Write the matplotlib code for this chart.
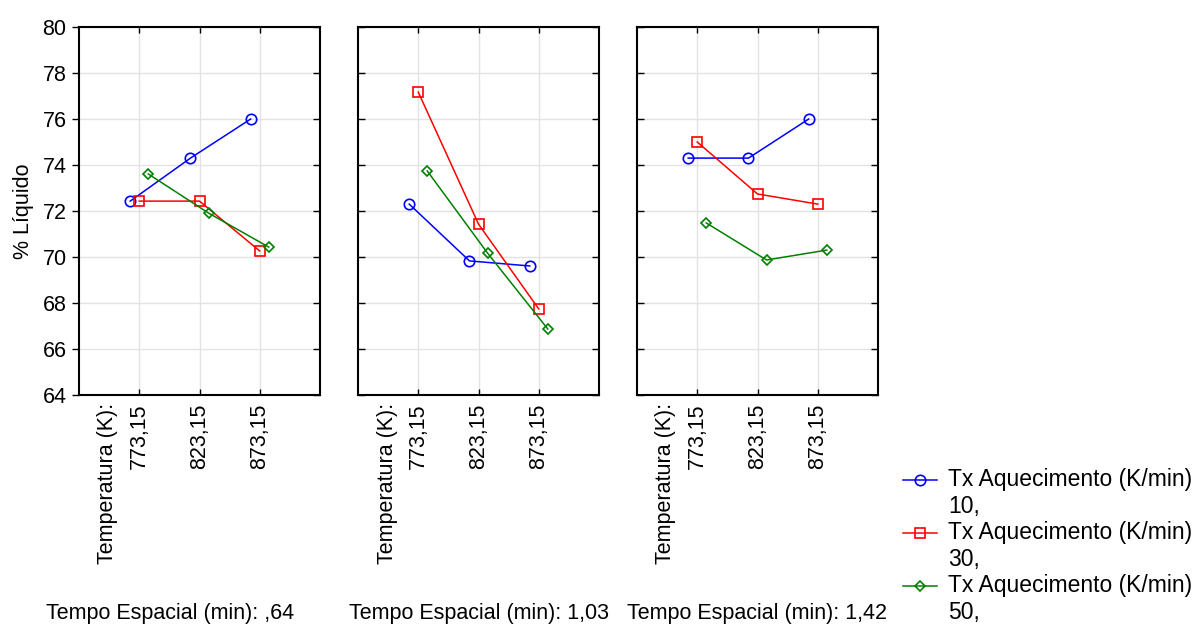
import numpy as np
import matplotlib
matplotlib.use('Agg')
import matplotlib.pyplot as plt
from matplotlib.lines import Line2D
from matplotlib.legend_handler import HandlerLine2D

plt.rcParams['font.family'] = ['Liberation Sans', 'DejaVu Sans']

temperaturas = ['773,15', '823,15', '873,15']
tempos = [',64', '1,03', '1,42']
taxas = ['10,', '30,', '50,']

# % liquido, [taxa][tempo][temperatura]
liq_10 = [[72.43, 74.30, 76.00], [72.30, 69.83, 69.61], [74.30, 74.30, 76.00]]
liq_30 = [[72.43, 72.43, 70.26], [77.17, 71.43, 67.74], [75.00, 72.74, 72.30]]
liq_50 = [[73.61, 71.91, 70.43], [73.74, 70.17, 66.87], [71.48, 69.87, 70.30]]

series = [liq_10, liq_30, liq_50]
colors = ['#0000ff', '#ff0000', '#008000']
markers = ['o', 's', 'D']
msizes = [7.5, 7.5, 5.5]
offsets = [-0.15, 0.0, 0.15]


class FirstLineHandler(HandlerLine2D):
    # put the legend handle next to the first line of a 2-line label
    def create_artists(self, legend, orig_handle, xdescent, ydescent, width, height,
                       fontsize, trans):
        arts = super().create_artists(legend, orig_handle, xdescent, ydescent, width,
                                      height, fontsize, trans)
        for a in arts:
            a.set_ydata(np.asarray(a.get_ydata()) + 0.62 * fontsize)
        return arts


fig = plt.figure(figsize=(11.98, 6.25), dpi=100)
W, H = 1198, 625
lefts = [79, 358, 637]
title_centers = [170, 479, 757]

x = np.arange(len(temperaturas))
for p, left in enumerate(lefts):
    ax = fig.add_axes([left / W, 1 - 395 / H, 241 / W, 368 / H])
    for s, data in enumerate(series):
        ax.plot(x + offsets[s], data[p], color=colors[s], marker=markers[s],
                markersize=msizes[s], markerfacecolor='none', markeredgewidth=1.2,
                linewidth=1.1)
    ax.set_xlim(-1, 3)
    ax.set_ylim(64, 80)
    ax.set_yticks(np.arange(64, 81, 2))
    ax.set_xticks(x)
    ax.set_xticklabels(temperaturas, rotation=90, fontsize=15.5)
    ax.grid(True, color='#e3e3e3', linewidth=1)
    ax.set_axisbelow(True)
    for sp in ax.spines.values():
        sp.set_linewidth(1.5)
    ax.tick_params(axis='x', direction='in', top=True, length=4, width=1, pad=6)
    if p == 0:
        ax.tick_params(axis='y', direction='out', labelsize=15.5, length=5, width=1,
                       right=True, pad=4)
        ax.set_ylabel('% Líquido', fontsize=15.5, labelpad=6)
    else:
        ax.tick_params(axis='y', direction='in', labelleft=False, right=True, length=5, width=1)
    # right ticks inward
    for t in ax.yaxis.get_major_ticks():
        t.tick2line.set_marker(matplotlib.lines.TICKLEFT)
    fig.text((left + 29) / W, 1 - 403 / H, 'Temperatura (K):', rotation=90,
             ha='center', va='top', fontsize=15.5)
    fig.text(title_centers[p] / W, 1 - 614 / H, 'Tempo Espacial (min): ' + tempos[p],
             ha='center', va='center', fontsize=15.5)

handles = [Line2D([], [], color=colors[s], marker=markers[s], markersize=msizes[s],
                  markerfacecolor='none', markeredgewidth=1.2, linewidth=1.1)
           for s in range(3)]
labels = ['Tx Aquecimento (K/min)\n' + t for t in taxas]
fig.legend(handles, labels, loc='lower left', bbox_to_anchor=(882 / W, -0.031),
           frameon=False, fontsize=16.5, handlelength=1.5, labelspacing=0.15,
           handletextpad=0.5, handler_map={Line2D: FirstLineHandler()})

fig.savefig('out.png', dpi=100)
